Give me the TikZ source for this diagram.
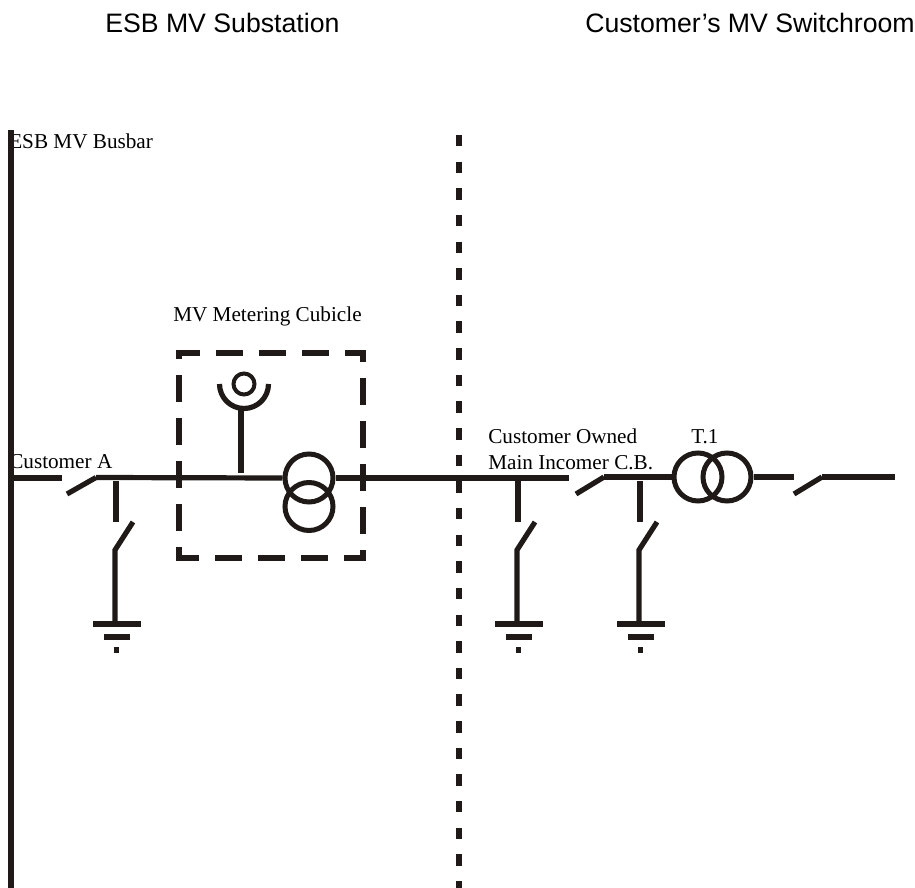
\documentclass[tikz,border=0pt]{standalone}
\usepackage{fontspec}
\setmainfont{Liberation Serif}
\newfontfamily\headfont{Liberation Sans}
\usepackage{tikz}
\definecolor{inkdark}{HTML}{1F1A17}
\tikzset{
  label/.style={anchor=base west, inner sep=0pt, font=\fontsize{15.9}{19}\selectfont, text=black},
  head/.style={anchor=base west, inner sep=0pt, font=\headfont\fontsize{20}{24}\selectfont, text=black},
  wire/.style={draw=inkdark, line width=4.5pt},
  thin wire/.style={draw=inkdark, line width=3.9pt},
  winding/.style={circle, draw=inkdark, line width=3.75pt, minimum size=36pt, inner sep=0pt},
  pot/.style={circle, draw=inkdark, line width=3pt, minimum size=15.75pt, inner sep=0pt},
}

\begin{document}
\begin{tikzpicture}[x=0.75pt, y=-0.75pt]
  \useasboundingbox (0,0) rectangle (915,888);

  \node [head] (hesb) at (105,32.5) {ESB MV Substation};
  \node [head] (hcust) at (585,32.5) {Customer’s MV Switchroom};
  \node [label] (lbus) at (9,149) {ESB MV Busbar};
  \node [label] (lcubicle) at (173,321) {MV Metering Cubicle};
  \node [label] (lcusta) at (9,468) {Customer A};
  \node [label] (lowned) at (488,443) {Customer Owned};
  \node [label] (lmain) at (488,469) {Main Incomer C.B.};
  \node [label] (lt1) at (691,443) {T.1};

  \coordinate (bustop) at (11,130);
  \coordinate (busbot) at (11,888);
  \coordinate (fenceTop) at (458.5,135);
  \coordinate (fenceBot) at (458.5,888);
  \draw [wire] (bustop) -- (busbot);
  \draw [wire, dash pattern=on 8.6pt off 11.38pt] (fenceTop) -- (fenceBot);

  % metering cubicle
  \coordinate (boxa) at (179,561);
  \coordinate (boxb) at (179,353);
  \coordinate (boxc) at (363,353);
  \coordinate (boxd) at (363,558);
  \coordinate (boxe) at (176,558);
  \draw [wire, miter limit=10, dash pattern=on 20.25pt off 12pt, dash phase=9.75pt]
    (boxa) -- (boxb) -- (boxc) -- (boxd) -- (boxe);

  \node [winding] (ctb) at (309,506.5) {};
  \node [winding] (cta) at (309,478) {};
  \node [winding] (tra) at (698,477) {};
  \node [winding] (trb) at (727,477) {};
  \node [pot] (meter) at (244,384) {};

  \coordinate (busout) at (14,478);
  \coordinate (cuta) at (62,478);
  \coordinate (blada) at (67,494);
  \coordinate (bladb) at (96,477.5);
  \coordinate (cutb) at (569,478);
  \coordinate (bladc) at (576,494);
  \coordinate (bladd) at (604,477);
  \coordinate (cutc) at (794,477);
  \coordinate (blade) at (794,494);
  \coordinate (bladf) at (822,477);
  \coordinate (lineout) at (895,477);
  \coordinate (stemtop) at (241,410);
  \coordinate (stembot) at (241,473);
  \coordinate (cupl) at (219.5,384);

  \draw [wire] (busout) -- (cuta);
  \draw [thin wire] (blada) -- (bladb);
  \draw [thin wire] (bladb) -- (cta.west);
  \draw [wire] (cta.east) -- (cutb);
  \draw [thin wire] (bladc) -- (bladd);
  \draw [thin wire] (bladd) -- (tra.west);
  \draw [wire] (trb.east) -- (cutc);
  \draw [thin wire] (blade) -- (bladf);
  \draw [thin wire] (bladf) -- (lineout);
  \draw [thin wire] (stemtop) -- (stembot);
  \draw [thin wire] (cupl) arc [start angle=180, end angle=0, radius=24.5];

  % earth switches
  \foreach \n/\x in {a/116,b/518,c/640} {
    \coordinate (top\n) at (\x,481);
    \coordinate (open\n) at (\x,522);
    \coordinate (tip\n) at ({\x+17},522);
    \coordinate (hinge\n) at (\x-1,550);
    \coordinate (foot\n) at (\x-1,624);
    \draw [thin wire] (top\n) -- (open\n);
    \draw [thin wire] (tip\n) -- (hinge\n) -- (foot\n);
    \draw [thin wire] ({\x-23},624) -- ({\x+25},624);
    \draw [thin wire] ({\x-12},637) -- ({\x+14},637);
    \draw [wire] ({\x-2},650) -- ({\x+3},650);
  }
\end{tikzpicture}
\end{document}
